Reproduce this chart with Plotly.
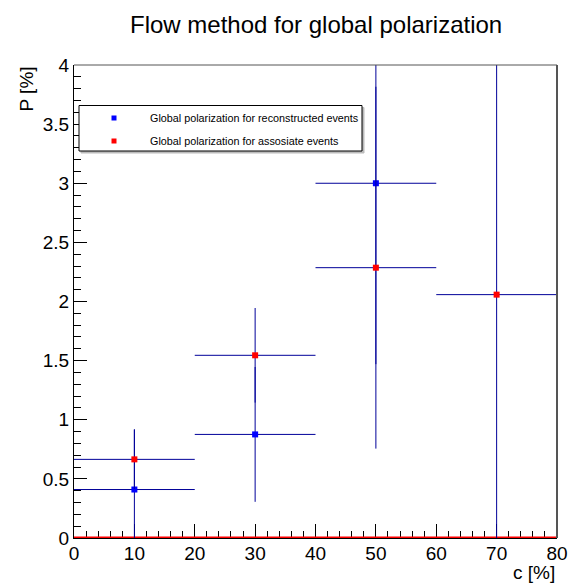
import plotly.graph_objects as go

# ---- data ----
reco_c = [10, 30, 50]
reco_p = [0.41, 0.876, 3.0]
reco_perr = [0.51, 0.57, 1.53]
reco_cerr = [10, 10, 10]

assoc_c = [10, 30, 50, 70]
assoc_p = [0.665, 1.545, 2.286, 2.058]
assoc_perr = [0.25, 0.40, 1.53, 2.5]
assoc_cerr = [10, 10, 10, 10]

zero_c = [0, 80]
zero_p = [0, 0]

legend_labels = ["Global polarization for reconstructed events",
                 "Global polarization for assosiate events"]

FONT = "Liberation Sans, Arial, Helvetica, sans-serif"
ERR = "#000099"

fig = go.Figure()

fig.add_trace(go.Scatter(
    x=zero_c, y=zero_p, mode="lines",
    line=dict(color="#ff0000", width=3), showlegend=False, hoverinfo="skip"))

fig.add_trace(go.Scatter(
    x=reco_c, y=reco_p, mode="markers", name=legend_labels[0],
    marker=dict(symbol="square", size=6, color="#0000ff", line=dict(width=0)),
    error_x=dict(type="data", array=reco_cerr, color=ERR, thickness=1, width=0),
    error_y=dict(type="data", array=reco_perr, color=ERR, thickness=1, width=0),
    showlegend=False))

fig.add_trace(go.Scatter(
    x=assoc_c, y=assoc_p, mode="markers", name=legend_labels[1],
    marker=dict(symbol="square", size=6, color="#ff0000", line=dict(width=0)),
    error_x=dict(type="data", array=assoc_cerr, color=ERR, thickness=1, width=0),
    error_y=dict(type="data", array=assoc_perr, color=ERR, thickness=1, width=0),
    showlegend=False))

# plot area in pixels: x 74..557, y 65..538
L, R, T, B = 74, 557, 65, 538
PW, PH = R - L, B - T

def px(x):
    return (x - L) / PW

def py(y):
    return (B - y) / PH

shapes = []
# frame top / right
shapes.append(dict(type="line", xref="paper", yref="paper", x0=0, x1=1, y0=1, y1=1,
                   line=dict(color="#555555", width=1)))
shapes.append(dict(type="line", xref="paper", yref="paper", x0=1, x1=1, y0=0, y1=1,
                   line=dict(color="#555555", width=2)))
# legend box with shadow
shapes.append(dict(type="rect", xref="paper", yref="paper",
                   x0=px(81), x1=px(364), y0=py(153), y1=py(107.5),
                   line=dict(color="#bbbbbb", width=1), fillcolor="#bbbbbb"))
shapes.append(dict(type="rect", xref="paper", yref="paper",
                   x0=px(79), x1=px(362), y0=py(151), y1=py(105.5),
                   line=dict(color="black", width=1), fillcolor="white"))
for yy, col in [(118, "#0000ff"), (141, "#ff0000")]:
    shapes.append(dict(type="rect", xref="paper", yref="paper",
                       xsizemode="pixel", ysizemode="pixel",
                       xanchor=px(114), yanchor=py(yy),
                       x0=-2.5, x1=2.5, y0=-2.5, y1=2.5,
                       line=dict(width=0), fillcolor=col))

annotations = []
for yy, txt in [(118, legend_labels[0]), (141, legend_labels[1])]:
    annotations.append(dict(xref="paper", yref="paper", x=px(148), y=py(yy),
                            xanchor="left", yanchor="middle", text=txt, showarrow=False,
                            font=dict(family=FONT, size=10.8, color="black")))
annotations.append(dict(xref="paper", yref="paper", x=1.0, y=py(572),
                        xanchor="right", yanchor="middle", text="c [%]", showarrow=False,
                        font=dict(family=FONT, size=19, color="black")))
annotations.append(dict(xref="paper", yref="paper", x=px(26), y=1.0,
                        xanchor="center", yanchor="top", text="P [%]", showarrow=False,
                        textangle=-90,
                        font=dict(family=FONT, size=19, color="black")))
annotations.append(dict(xref="paper", yref="paper", x=px(316), y=py(25),
                        xanchor="center", yanchor="middle",
                        text="Flow method for global polarization", showarrow=False,
                        font=dict(family=FONT, size=24, color="black")))

fig.update_layout(
    width=570, height=585,
    margin=dict(l=L, r=570 - R, t=T, b=585 - B, pad=0),
    paper_bgcolor="white", plot_bgcolor="white",
    font=dict(family=FONT, size=19, color="black"),
    shapes=shapes, annotations=annotations,
    showlegend=False,
)

fig.update_xaxes(
    range=[0, 80], tickmode="linear", tick0=0, dtick=10,
    ticks="inside", ticklen=14, tickwidth=1, tickcolor="black",
    minor=dict(ticks="inside", ticklen=7, dtick=2, tickcolor="black", tickwidth=1, showgrid=False),
    showline=True, linecolor="black", linewidth=1, mirror=False,
    showgrid=False, zeroline=False, automargin=False, layer="below traces",
    ticklabelstandoff=-2,
    tickfont=dict(family=FONT, size=19, color="black"),
)
fig.update_yaxes(
    range=[0, 4], tickmode="linear", tick0=0, dtick=0.5,
    ticks="inside", ticklen=13, tickwidth=1, tickcolor="black",
    minor=dict(ticks="inside", ticklen=7, dtick=0.1, tickcolor="black", tickwidth=1, showgrid=False),
    showline=True, linecolor="black", linewidth=1, mirror=False,
    showgrid=False, zeroline=False, automargin=False, layer="below traces",
    tickfont=dict(family=FONT, size=19, color="black"),
)

fig.write_html("out.html")
